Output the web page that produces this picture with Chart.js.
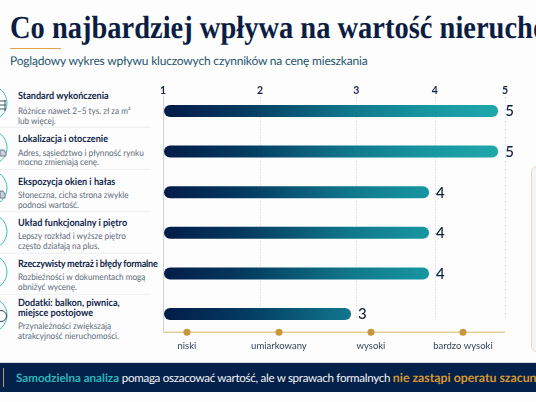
<!DOCTYPE html>
<html lang="pl">
<head>
<meta charset="utf-8">
<title>Co najbardziej wpływa na wartość nieruchomości</title>
<script src="https://cdn.jsdelivr.net/npm/chart.js@4"></script>
<style>
    html, body { margin: 0; padding: 0; }
    body { position: relative; width: 536px; height: 402px; overflow: hidden; background: #fdfdfe; font-family: Lato, sans-serif; text-rendering: geometricPrecision; }
    h1 { position: absolute; left: 10px; top: 9px; margin: 0; font: bold 32px/36px "Liberation Serif", serif; color: #0b1d42; white-space: nowrap; transform: scaleX(0.89); transform-origin: left top; }
    .rule { position: absolute; left: 10px; top: 47.5px; width: 51px; height: 1.5px; background: #dba54e; }
    .sub { position: absolute; left: 10px; top: 52px; font-size: 12px; letter-spacing: -0.19px; line-height: 17px; color: #1f566d; white-space: nowrap; }
    #factors { position: absolute; left: 0; top: 0; width: 160px; height: 360px; }
    #factors svg { position: absolute; left: 0; top: 0; }
    .factor-title, .factor-note { position: absolute; left: 18px; white-space: nowrap; transform: scaleX(0.91); transform-origin: left top; }
    .factor-title { font-size: 10px; line-height: 10px; font-weight: 700; color: #11264a; }
    .factor-note { font-size: 9px; line-height: 10px; color: #5d6a78; }
    .tight { letter-spacing: -0.26px; }
    .card { position: absolute; left: 531px; top: 166px; width: 30px; height: 186px; box-sizing: border-box; border: 1px solid #ecd9b6; border-radius: 6px; background: #f3f6f9; }
    .band { position: absolute; left: 0; top: 362px; width: 536px; height: 30px; background: #04214a; border-top: 1px solid #d5d8dd; box-sizing: border-box; overflow: hidden; white-space: nowrap; font-size: 11.6px; letter-spacing: -0.3px; line-height: 29px; color: #f4f6f8; padding-left: 16px; }
    .band::before { content: ""; position: absolute; left: 3px; top: 5px; width: 1px; height: 19px; background: #b9976a; }
    .band b { font-weight: 700; letter-spacing: 0; }
    .band .teal { color: #2cb6b8; }
    .band .gold { color: #d8982f; font-size: 12.3px; }
    canvas { position: absolute; left: 0; top: 0; }
</style>
</head>
<body>
<h1>Co najbardziej wpływa na wartość nieruchomości</h1>
<div class="rule"></div>
<div class="sub">Poglądowy wykres wpływu kluczowych czynników na cenę mieszkania</div>
<div id="factors"></div>
<div class="card"></div>
<div class="band"><b class="teal">Samodzielna analiza</b> pomaga oszacować wartość, ale w sprawach formalnych <b class="gold">nie zastąpi operatu szacunkowego</b></div>
<canvas id="levels" width="536" height="402"></canvas>
<canvas id="chart" width="536" height="402"></canvas>

<script>
// chart data
const factorNames = ["Standard wykończenia", "Lokalizacja i otoczenie", "Ekspozycja okien i hałas", "Układ funkcjonalny i piętro", "Rzeczywisty metraż i błędy formalne", "Dodatki: balkon, piwnica, miejsce postojowe"];
const impactValues = [5, 5, 4, 4, 4, 3];
const scaleTicks = [1, 2, 3, 4, 5];
const levelNames = ["niski", "umiarkowany", "wysoki", "bardzo wysoki"];

// text of the left column
const factorTitleLines = [["Standard wykończenia"], ["Lokalizacja i otoczenie"], ["Ekspozycja okien i hałas"], ["Układ funkcjonalny i piętro"], ["Rzeczywisty metraż i błędy formalne"], ["Dodatki: balkon, piwnica,", "miejsce postojowe"]];
const factorNotes = [
    ["Różnice nawet 2–5 tys. zł za m²", "lub więcej."],
    ["Adres, sąsiedztwo i płynność rynku", "mocno zmieniają cenę."],
    ["Słoneczna, cicha strona zwykle", "podnosi wartość."],
    ["Lepszy rozkład i wyższe piętro", "często działają na plus."],
    ["Rozbieżności w dokumentach mogą", "obniżyć wycenę."],
    ["Przynależności zwiększają", "atrakcyjność nieruchomości."]
];

// left column layout
const titleCenters = [[95.7], [139.3], [182], [223.3], [264.3], [303.3, 313.3]];
const noteCenters = [[110.7, 120.7], [152.7, 162.3], [195, 205.3], [235.7, 245.7], [276.7, 287.3], [325.7, 335.7]];
const iconCenters = [103, 147.5, 188, 231.5, 272, 315];
const separators = [127.3, 169.3, 211.7, 253.3, 294.3];

// level axis range, the level dots sit on whole numbers
const levelMin = 0.74;
const levelMax = 4.457;

function addLine(parent, cls, text, center) {
    let el = document.createElement("div");
    el.className = cls;
    el.textContent = text;
    el.style.top = (center - 5) + "px";
    parent.appendChild(el);
}

const factorsBox = document.getElementById("factors");
let svg = '<svg width="160" height="360" xmlns="http://www.w3.org/2000/svg">';
separators.forEach(y => { svg += `<line x1="0" x2="151" y1="${y}" y2="${y}" stroke="#eceef1" stroke-width="1"/>`; });
iconCenters.forEach(y => { svg += `<circle cx="-10.5" cy="${y}" r="17.5" fill="#fbfdfd" stroke="#3dbcbc" stroke-width="1"/>`; });
// small glyphs of the icons, only their right ends show
svg += '<path d="M0 101h6M0 105h6M0 109h6M5 100v11" stroke="#43566c" stroke-width="1" fill="none"/>';
svg += '<path d="M0 150h4l2 3v3H0z" stroke="#6d7c8b" stroke-width="1" fill="#c9d2da"/>';
svg += '<path d="M0 191h3l2 3v4H0z" stroke="#6d7c8b" stroke-width="1" fill="#c9d2da"/>';
svg += '<circle cx="1" cy="316" r="5.5" stroke="#33465c" stroke-width="1" fill="none"/>';
svg += '</svg>';
factorsBox.innerHTML = svg;

factorNames.forEach((name, i) => {
    // the longest title is set tighter so it stays inside the column
    let titleClass = factorTitleLines[i][0].length > 30 ? "factor-title tight" : "factor-title";
    titleCenters[i].forEach((c, j) => addLine(factorsBox, titleClass, factorTitleLines[i][j], c));
    noteCenters[i].forEach((c, j) => addLine(factorsBox, "factor-note", factorNotes[i][j], c));
});

// share of the axis width where each value ends and where its tick sits
const valueStops = [0.003, 0.27, 0.55, 0.778, 0.98];
const tickStops = [0, 0.284, 0.565, 0.795, 1];

// the impact axis is not evenly spaced
class StopScale extends Chart.LinearScale {
    static id = "stops";
    static defaults = Chart.LinearScale.defaults;

    getPixelForValue(value) {
        let low = Math.min(Math.max(Math.floor(value), 1), 4);
        let share = valueStops[low - 1] + (valueStops[low] - valueStops[low - 1]) * (value - low);
        return this.left + this.width * share;
    }

    getPixelForTick(index) {
        return this.left + this.width * tickStops[this.ticks[index].value - 1];
    }
}
Chart.register(StopScale);

// dotted guides that stop above the level line
const guidesPlugin = {
    id: "guides",
    beforeDatasetsDraw(chart) {
        const scale = chart.scales.x;
        const ctx = chart.ctx;
        ctx.save();
        scale.ticks.forEach((tick, i) => {
            let x = Math.round(scale.getPixelForTick(i)) + 0.5;
            ctx.beginPath();
            ctx.lineWidth = 1;
            if (i === 0) {
                ctx.setLineDash([]);
                ctx.strokeStyle = "#cfd3d8";
                ctx.moveTo(x, chart.chartArea.top + 5);
                ctx.lineTo(x, chart.chartArea.bottom - 2);
            } else {
                ctx.setLineDash([1.5, 2.5]);
                ctx.strokeStyle = "#d3d7dc";
                ctx.moveTo(x, chart.chartArea.top + 6);
                ctx.lineTo(x, chart.chartArea.bottom - 14);
            }
            ctx.stroke();
        });
        ctx.restore();
    }
};

// value printed to the right of each bar
const barValuesPlugin = {
    id: "barValues",
    afterDatasetsDraw(chart) {
        const ctx = chart.ctx;
        ctx.save();
        ctx.font = "500 15px Lato, sans-serif";
        ctx.fillStyle = "#0b1f3f";
        ctx.textBaseline = "middle";
        chart.getDatasetMeta(0).data.forEach((bar, i) => {
            ctx.fillText(String(impactValues[i]), bar.x + 7, bar.y + 0.5);
        });
        ctx.restore();
    }
};

function barGradient(context) {
    const chart = context.chart;
    if (!chart.chartArea) return "#04204a";
    const scale = chart.scales.x;
    let start = scale.getPixelForValue(1);
    let end = scale.getPixelForValue(5);
    let gradient = chart.ctx.createLinearGradient(start, 0, end, 0);
    gradient.addColorStop(0, "#031c48");
    gradient.addColorStop(0.25, "#043c62");
    gradient.addColorStop(0.56, "#11788c");
    gradient.addColorStop(0.79, "#1796a0");
    gradient.addColorStop(1, "#1fa7aa");
    return gradient;
}

// bars with the 1-5 axis above them
new Chart(document.getElementById("chart"), {
    type: "bar",
    data: {
        labels: factorNames,
        datasets: [{
            data: impactValues,
            base: 1,
            backgroundColor: barGradient,
            barThickness: 12,
            borderRadius: 6,
            borderSkipped: false,
            inflateAmount: 0
        }]
    },
    options: {
        indexAxis: "y",
        responsive: false,
        animation: false,
        layout: { padding: { left: 163, right: 31, top: 90.7, bottom: 67.7 } },
        plugins: { legend: { display: false }, tooltip: { enabled: false } },
        scales: {
            x: {
                type: "stops",
                position: "top",
                min: 1,
                max: 5,
                afterBuildTicks(scale) { scale.ticks = scaleTicks.map(v => ({ value: v })); },
                afterFit(scale) { scale.height = 0; },
                grid: { display: false, drawTicks: false },
                border: { display: false },
                ticks: { mirror: true, padding: -6.5, color: "#14274a", font: { family: "Lato", size: 10.5, weight: "700" } }
            },
            y: { type: "category", display: false }
        }
    },
    plugins: [guidesPlugin, barValuesPlugin]
});

// level strip under the bars
new Chart(document.getElementById("levels"), {
    type: "scatter",
    data: {
        datasets: [
            {
                data: levelNames.map((name, i) => ({ x: i + 1, y: 0 })),
                pointRadius: 3.5,
                pointBackgroundColor: "#c8963c",
                pointBorderWidth: 0,
                clip: false
            },
            {
                data: [{ x: levelMin, y: 0 }, { x: levelMax, y: 0 }],
                showLine: true,
                pointRadius: 0,
                borderColor: "#dcb567",
                borderWidth: 1,
                clip: false
            }
        ]
    },
    options: {
        responsive: false,
        animation: false,
        layout: { padding: { left: 163, right: 31, top: 326.2, bottom: 47.8 } },
        plugins: { legend: { display: false }, tooltip: { enabled: false } },
        scales: {
            x: {
                type: "linear",
                min: levelMin,
                max: levelMax,
                afterBuildTicks(scale) { scale.ticks = levelNames.map((name, i) => ({ value: i + 1 })); },
                afterFit(scale) { scale.height = 16; },
                grid: { display: false, drawTicks: false },
                border: { display: false },
                ticks: {
                    padding: 2,
                    autoSkip: false,
                    maxRotation: 0,
                    color: "#334459",
                    font: { family: "Lato", size: 9.5 },
                    callback: value => levelNames[value - 1]
                }
            },
            y: { type: "linear", display: false, min: -1, max: 1 }
        }
    }
});
</script>
</body>
</html>
